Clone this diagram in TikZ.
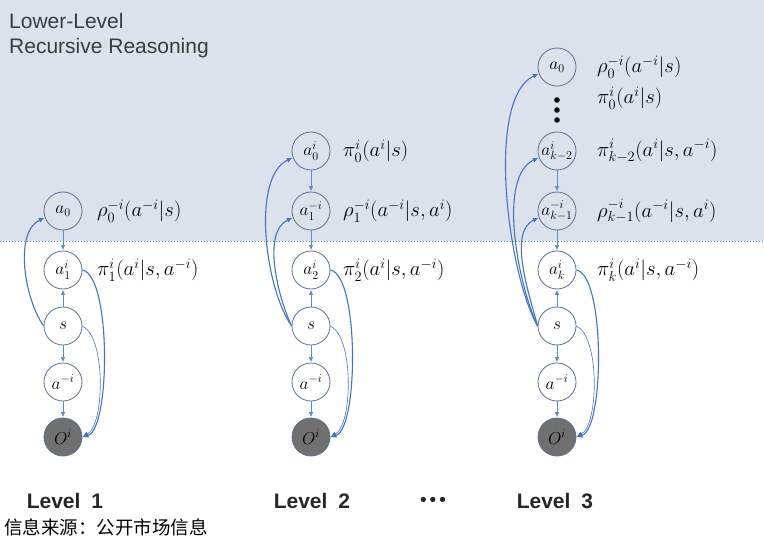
\documentclass[tikz,border=0pt]{standalone}
\usepackage{fontspec}
\setmainfont{Liberation Sans}
\newfontfamily\cjk{Noto Sans CJK SC}
\newfontfamily\dejavu{DejaVu Sans}
\usetikzlibrary{arrows.meta}
\definecolor{bgblue}{HTML}{DCE2EB}
\definecolor{edgeblue}{HTML}{4472C4}
\definecolor{nodeedge}{HTML}{5C6F8E}
\definecolor{obsgray}{HTML}{707070}
\definecolor{dotblue}{HTML}{5B8BD0}
\definecolor{titlegray}{HTML}{3C3C3C}
\begin{document}
\begin{tikzpicture}[x=1pt,y=1pt,
  nd/.style={circle, draw=nodeedge, line width=0.8pt, minimum size=38pt, inner sep=0pt, font=\fontsize{17}{17}\selectfont},
  wn/.style={nd, fill=white},
  obs/.style={nd, fill=obsgray},
  arr/.style={-{Latex[length=5pt,width=4.5pt]}, draw=dotblue, line width=0.7pt, shorten >=0.5pt},
  curv/.style={-{Latex[length=6pt,width=5pt]}, draw=edgeblue, line width=1.1pt},
  thin curv/.style={-{Latex[length=6pt,width=5pt]}, draw=edgeblue, line width=0.6pt},
  lab/.style={anchor=west, inner sep=0pt, font=\fontsize{19.5}{19.5}\selectfont},
  lvl/.style={font=\bfseries\fontsize{21}{21}\selectfont, text=black!85},
  ttl/.style={anchor=west, inner sep=0pt, font=\fontsize{21}{21}\selectfont, text=titlegray}]
\useasboundingbox (0,0) rectangle (764,-551);
\fill[white] (0,0) rectangle (764,-551);
\fill[bgblue] (0,0) rectangle (764,-241);
\draw[dotblue, dotted, line width=1pt] (0,-241) -- (764,-241);

\node[ttl] (t1) at (9,-21) {Lower-Level};
\node[ttl] (t2) at (9,-48) {Recursive Reasoning};

% ---------- Level 1 ----------
\node[nd]  (A0) at (63,-211) {$a_0$};
\node[wn]  (A1) at (63,-270) {$a^i_1$};
\node[wn]  (As) at (63,-326) {$s$};
\node[wn]  (Am) at (63,-382) {$a^{-i}$};
\node[obs] (Ao) at (63,-437) {$O^i$};
\draw[arr] (A0) -- (A1);
\draw[arr] (As) -- (A1);
\draw[arr] (As) -- (Am);
\draw[arr] (Am) -- (Ao);
\draw[curv] (As.west) to[out=125,in=205,looseness=0.8] (A0.200);
\draw[curv] (A1.east) to[out=-10,in=15,looseness=0.45] (Ao.east);
\draw[thin curv] (As.east) to[out=-25,in=30,looseness=0.6] (Ao.east);
\node[lab] (L1a) at (97,-211) {$\rho_0^{-i}(a^{-i}|s)$};
\node[lab] (L1b) at (97,-270) {$\pi_1^{i}(a^{i}|s,a^{-i})$};

% ---------- Level 2 ----------
\node[nd]  (B0) at (311,-151) {$a^i_0$};
\node[nd]  (B1) at (311,-211) {$a^{-i}_1$};
\node[wn]  (B2) at (311,-270) {$a^i_2$};
\node[wn]  (Bs) at (311,-326) {$s$};
\node[wn]  (Bm) at (311,-382) {$a^{-i}$};
\node[obs] (Bo) at (311,-437) {$O^i$};
\draw[arr] (B0) -- (B1);
\draw[arr] (B1) -- (B2);
\draw[arr] (Bs) -- (B2);
\draw[arr] (Bs) -- (Bm);
\draw[arr] (Bm) -- (Bo);
\draw[curv] (Bs.west) to[out=125,in=205,looseness=0.7] (B0.200);
\draw[curv] (Bs.west) to[out=115,in=205,looseness=0.8] (B1.200);
\draw[curv] (B2.east) to[out=-10,in=15,looseness=0.45] (Bo.east);
\draw[thin curv] (Bs.east) to[out=-25,in=30,looseness=0.6] (Bo.east);
\node[lab] (L2a) at (343,-151) {$\pi_0^{i}(a^{i}|s)$};
\node[lab] (L2b) at (343,-211) {$\rho_1^{-i}(a^{-i}|s,a^{i})$};
\node[lab] (L2c) at (343,-270) {$\pi_2^{i}(a^{i}|s,a^{-i})$};

% ---------- Level 3 ----------
\node[nd]  (C0) at (557,-67) {$a_0$};
\node[nd]  (C1) at (557,-151) {$a^i_{k-2}$};
\node[nd]  (C2) at (557,-211) {$a^{-i}_{k-1}$};
\node[wn]  (C3) at (557,-270) {$a^i_k$};
\node[wn]  (Cs) at (557,-326) {$s$};
\node[wn]  (Cm) at (557,-382) {$a^{-i}$};
\node[obs] (Co) at (557,-437) {$O^i$};
\fill[black] (557,-100) circle (2.8);
\fill[black] (557,-110) circle (2.8);
\fill[black] (557,-120) circle (2.8);
\draw[arr] (C1) -- (C2);
\draw[arr] (C2) -- (C3);
\draw[arr] (Cs) -- (C3);
\draw[arr] (Cs) -- (Cm);
\draw[arr] (Cm) -- (Co);
\draw[curv] (Cs.west) to[out=120,in=205,looseness=0.6] (C0.200);
\draw[curv] (Cs.west) to[out=115,in=205,looseness=0.7] (C1.200);
\draw[curv] (Cs.west) to[out=105,in=205,looseness=0.8] (C2.200);
\draw[curv] (C3.east) to[out=-10,in=15,looseness=0.45] (Co.east);
\draw[thin curv] (Cs.east) to[out=-25,in=30,looseness=0.6] (Co.east);
\node[lab] (L3a) at (597,-67) {$\rho_0^{-i}(a^{-i}|s)$};
\node[lab] (L3b) at (597,-98) {$\pi_0^{i}(a^{i}|s)$};
\node[lab] (L3c) at (597,-151) {$\pi_{k-2}^{i}(a^{i}|s,a^{-i})$};
\node[lab] (L3d) at (597,-211) {$\rho_{k-1}^{-i}(a^{-i}|s,a^{i})$};
\node[lab] (L3e) at (597,-270) {$\pi_k^{i}(a^{i}|s,a^{-i})$};

% ---------- bottom ----------
\node[lvl] (lv1) at (65,-501) {Level\hspace{11pt}1};
\node[lvl] (lv2) at (312,-501) {Level\hspace{11pt}2};
\node[lvl] (lvd) at (433,-501) {\dejavu\fontsize{15}{15}\selectfont •••};
\node[lvl] (lv3) at (555,-501) {Level\hspace{11pt}3};
\node[anchor=west, inner sep=0pt, font=\cjk\fontsize{18.5}{18.5}\selectfont] (src) at (4,-527) {信息来源：公开市场信息};
\end{tikzpicture}
\end{document}
